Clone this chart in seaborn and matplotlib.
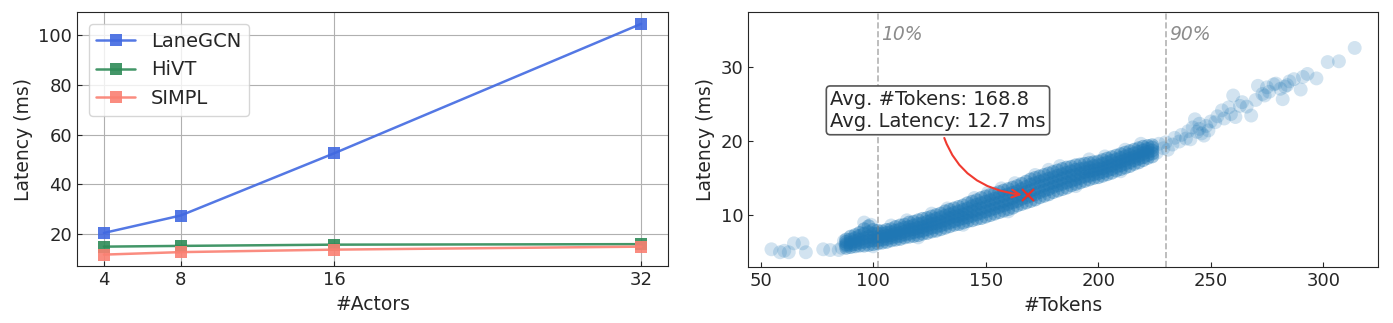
import numpy as np
import pandas as pd
import seaborn as sns
import matplotlib.pyplot as plt

# setup
sns.set_style('ticks', {'xtick.direction': 'in', 'ytick.direction': 'in'})
plt.rcParams['font.size'] = 13
plt.rcParams['axes.labelsize'] = 13.5

# left panel data
actors = [4, 8, 16, 32]
lanegcn = [20.5, 27.5, 52.5, 104.5]
hivt = [15.0, 15.3, 15.8, 16.0]
simpl = [11.8, 12.8, 13.8, 15.0]

# right panel data
left_tail_tokens = [54.8, 58.6, 60.5, 62.5, 64.8, 68.6, 70.1, 77.8, 80.9, 84.7, 86, 87]
left_tail_lat = [5.4, 5.0, 5.2, 5.0, 6.2, 6.2, 5.0, 5.4, 5.3, 5.3, 5.6, 6.5]

core_tokens = list(range(88, 226, 2))
core_lat = [
    [5.6, 5.9, 6.1, 6.4, 6.7], [5.7, 6.0, 6.3, 6.7, 7.1], [5.8, 6.1, 6.5, 6.9, 7.3],
    [5.9, 6.3, 6.7, 7.2, 7.6], [5.9, 6.4, 6.9, 7.5, 8.1], [6.0, 6.5, 7.1, 7.7, 8.5],
    [6.1, 6.6, 7.0, 7.5, 8.0], [6.2, 6.6, 7.1, 7.5, 7.9], [6.3, 6.7, 7.1, 7.5, 7.8],
    [6.4, 6.8, 7.2, 7.6, 8.0], [6.6, 7.0, 7.3, 7.7, 8.1], [6.7, 7.1, 7.5, 7.9, 8.4],
    [6.8, 7.2, 7.6, 8.1, 8.6], [7.0, 7.4, 7.8, 8.3, 8.7], [7.1, 7.5, 8.0, 8.4, 9.0],
    [7.2, 7.7, 8.1, 8.6, 9.1], [7.3, 7.8, 8.3, 8.8, 9.3], [7.5, 7.9, 8.4, 8.9, 9.5],
    [7.6, 8.1, 8.6, 9.1, 9.6], [7.8, 8.3, 8.8, 9.3, 9.8], [7.9, 8.4, 8.9, 9.5, 10.0],
    [8.1, 8.6, 9.1, 9.7, 10.2], [8.3, 8.8, 9.3, 9.9, 10.5], [8.5, 9.0, 9.6, 10.1, 10.7],
    [8.7, 9.2, 9.8, 10.3, 10.9], [8.8, 9.4, 9.9, 10.5, 11.1], [9.0, 9.6, 10.1, 10.7, 11.3],
    [9.2, 9.7, 10.3, 10.9, 11.6], [9.3, 9.9, 10.5, 11.2, 11.8], [9.5, 10.1, 10.7, 11.4, 12.0],
    [9.6, 10.3, 10.9, 11.6, 12.3], [9.8, 10.5, 11.1, 11.8, 12.5], [10.0, 10.7, 11.3, 12.0, 12.7],
    [10.2, 10.9, 11.5, 12.2, 12.9], [10.4, 11.1, 11.7, 12.4, 13.1], [10.6, 11.3, 11.9, 12.6, 13.3],
    [10.8, 11.5, 12.1, 12.8, 13.5], [11.0, 11.7, 12.3, 13.0, 13.7], [11.3, 11.9, 12.6, 13.2, 13.9],
    [11.5, 12.2, 12.8, 13.5, 14.2], [11.7, 12.4, 13.1, 13.8, 14.5], [11.9, 12.6, 13.3, 14.1, 14.8],
    [12.1, 12.8, 13.5, 14.3, 15.0], [12.4, 13.1, 13.8, 14.5, 15.2], [12.6, 13.3, 14.0, 14.7, 15.4],
    [12.8, 13.5, 14.2, 14.9, 15.6], [13.1, 13.8, 14.4, 15.1, 15.8], [13.3, 14.0, 14.6, 15.3, 16.0],
    [13.5, 14.2, 14.9, 15.5, 16.2], [13.7, 14.4, 15.1, 15.7, 16.4], [14.0, 14.6, 15.3, 15.9, 16.5],
    [14.2, 14.8, 15.4, 16.1, 16.7], [14.4, 15.0, 15.6, 16.2, 16.8], [14.6, 15.2, 15.8, 16.3, 16.9],
    [14.8, 15.3, 15.9, 16.4, 17.0], [15.0, 15.5, 16.0, 16.6, 17.1], [15.1, 15.6, 16.2, 16.7, 17.2],
    [15.3, 15.8, 16.3, 16.9, 17.4], [15.5, 16.0, 16.5, 17.1, 17.6], [15.7, 16.2, 16.7, 17.3, 17.8],
    [16.0, 16.5, 17.0, 17.5, 18.0], [16.2, 16.7, 17.2, 17.7, 18.2], [16.4, 16.9, 17.4, 17.9, 18.4],
    [16.6, 17.1, 17.6, 18.1, 18.6], [16.9, 17.4, 17.8, 18.3, 18.8], [17.1, 17.6, 18.0, 18.5, 19.0],
    [17.4, 17.8, 18.3, 18.7, 19.2], [17.7, 18.1, 18.5, 18.9, 19.3], [17.9, 18.3, 18.7, 19.1, 19.4],
]

edge_tokens = [96, 99, 108, 115, 126, 133, 145, 151, 157, 163, 172, 178, 183, 196, 203, 212, 219,
               100, 120, 140, 160, 190, 210]
edge_lat = [9.0, 8.7, 8.6, 9.3, 10.2, 10.9, 12.3, 13.0, 13.6, 14.3, 15.4, 16.1, 16.6, 17.5, 17.9, 18.8, 19.6,
            5.8, 7.0, 8.7, 10.5, 13.9, 15.9]

right_tail_tokens = [226, 227, 229, 230, 231, 233, 234, 236, 237, 239, 240, 241, 242, 243, 244, 245, 245,
                     246, 247, 248, 249, 250, 252, 253, 255, 256, 258, 259, 260, 261, 263, 264, 266, 268,
                     270, 271, 273, 274, 275, 276, 278, 279, 281, 282, 283, 284, 285, 287, 290, 291, 293,
                     297, 302, 307, 314]
right_tail_lat = [18.4, 19.6, 19.0, 19.8, 18.8, 19.5, 20.4, 19.9, 20.8, 20.3, 21.3, 20.2, 21.8, 22.9, 21.2,
                  21.6, 22.3, 21.0, 20.7, 22.0, 21.4, 22.6, 22.5, 23.3, 24.1, 23.0, 24.5, 23.6, 26.1, 23.2,
                  24.7, 25.2, 24.6, 23.4, 25.5, 27.4, 26.3, 26.1, 27.2, 26.6, 27.6, 27.7, 27.0, 25.6, 27.3,
                  27.5, 28.0, 28.3, 26.9, 28.6, 29.0, 28.4, 30.6, 30.7, 32.5]

avg_tokens = 168.8
avg_latency = 12.7
p10, p90 = 102, 230

# build frames
lines = pd.DataFrame({
    'actors': actors * 3,
    'latency': lanegcn + hivt + simpl,
    'model': ['LaneGCN'] * 4 + ['HiVT'] * 4 + ['SIMPL'] * 4,
})

sparse = pd.DataFrame({
    'tokens': left_tail_tokens + edge_tokens + right_tail_tokens,
    'latency': left_tail_lat + edge_lat + right_tail_lat,
})
ctok, clat = [], []
for t, row in zip(core_tokens, core_lat):
    ctok += [t] * len(row)
    clat += row
core = pd.DataFrame({'tokens': ctok, 'latency': clat})

# plot
fig = plt.figure(figsize=(13.93, 3.23), dpi=100)
ax1 = fig.add_axes([0.0553, 0.176, 0.4243, 0.786])
ax2 = fig.add_axes([0.537, 0.173, 0.4523, 0.789])

palette = {'LaneGCN': '#4169E1', 'HiVT': '#2E8B57', 'SIMPL': '#FA8072'}
sns.lineplot(data=lines, x='actors', y='latency', hue='model', palette=palette,
             marker='s', markersize=8.5, markeredgewidth=0, linewidth=1.8, alpha=0.9, ax=ax1)
ax1.set_xticks(actors)
ax1.set_yticks([20, 40, 60, 80, 100])
ax1.grid(True, color='#b0b0b0', linewidth=0.8)
ax1.set_xlabel('#Actors')
ax1.set_ylabel('Latency (ms)')
ax1.legend(loc='upper left', fontsize=14, title=None, framealpha=0.8,
           borderaxespad=0.6)

sns.scatterplot(data=sparse, x='tokens', y='latency', s=100, alpha=0.2,
                color='#1f77b4', linewidth=0, edgecolor='none', ax=ax2)
sns.scatterplot(data=core, x='tokens', y='latency', s=100, alpha=0.4,
                color='#1f77b4', linewidth=0, edgecolor='none', ax=ax2)
ax2.axvline(p10, color='gray', ls='--', lw=1.2, alpha=0.6)
ax2.axvline(p90, color='gray', ls='--', lw=1.2, alpha=0.6)
ax2.text(p10 + 1.5, 34.3, '10%', color='gray', style='italic', va='center', fontsize=13.5, alpha=0.9)
ax2.text(p90 + 1.5, 34.3, '90%', color='gray', style='italic', va='center', fontsize=13.5, alpha=0.9)
ax2.plot([avg_tokens], [avg_latency], marker='x', color='#e8302a', markersize=9, mew=1.6)
ax2.annotate(f'Avg. #Tokens: {avg_tokens}\nAvg. Latency: {avg_latency} ms',
             xy=(avg_tokens - 1.5, avg_latency), xytext=(128.8, 24.1),
             ha='center', va='center', multialignment='left', fontsize=14,
             bbox=dict(boxstyle='round,pad=0.2', fc='white', ec='#555555', lw=1.2),
             arrowprops=dict(arrowstyle='->', color='#f03a30', lw=1.5,
                             connectionstyle='arc3,rad=0.4'))
ax2.set_xlim(44.4, 324.4)
ax2.set_ylim(3.0, 37.3)
ax2.set_xticks([50, 100, 150, 200, 250, 300])
ax2.set_yticks([10, 20, 30])
ax2.set_xlabel('#Tokens')
ax2.set_ylabel('Latency (ms)')

fig.savefig('out.png', dpi=100)
